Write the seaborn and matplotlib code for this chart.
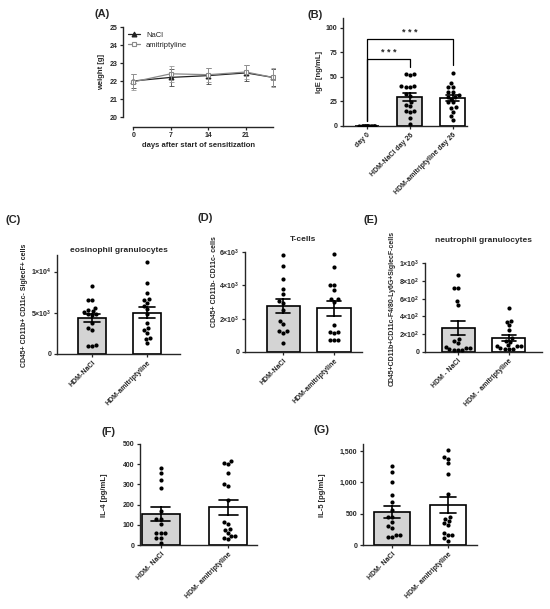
import numpy as np
import pandas as pd
import seaborn as sns
import matplotlib.pyplot as plt

# panel A - body weight over time (mean +/- SEM)
weight_days = [0, 7, 14, 21, 26]
weight_nacl = [22.0, 22.2, 22.3, 22.45, 22.2]
weight_nacl_err = [0.4, 0.45, 0.45, 0.45, 0.45]
weight_ami = [21.95, 22.4, 22.35, 22.5, 22.2]
weight_ami_err = [0.45, 0.45, 0.4, 0.4, 0.55]

# panel B - IgE
ige_groups = ['day 0', 'HDM-NaCl day 26', 'HDM-amitriptyline day 26']
ige_day0 = [0, 0, 0, 0, 0, 0, 0, 0, 0, 0, 0, 0, 0, 0, 0, 0, 0]
ige_nacl = [53, 53, 52, 41, 41, 40, 40, 33, 31, 24, 21, 20, 15, 15, 14, 8, 2]
ige_ami = [54, 44, 40, 40, 35, 35, 32, 30, 30, 28, 24, 24, 19, 18, 14, 10, 6]

# panels C, D - cell counts
cell_groups = ['HDM-NaCl', 'HDM-amitriptyline']
eos_nacl = [8200, 6600, 6500, 5600, 5300, 5200, 5100, 4800, 4900, 4700, 3700, 3100, 2900, 1100, 1000, 1000]
eos_ami = [11200, 8600, 7400, 6700, 6600, 6200, 5800, 5400, 4800, 3700, 3100, 2900, 2600, 2000, 1800, 1300]
tcell_nacl = [5800, 5150, 4350, 3800, 3450, 3050, 2950, 2500, 1850, 1700, 1250, 1150, 1250, 550]
tcell_ami = [5900, 5100, 4000, 4000, 3700, 3150, 3150, 3000, 1600, 1200, 1200, 1150, 750, 700, 700]

# panel E - neutrophils
neut_groups = ['HDM - NaCl', 'HDM - amitriptyline']
neut_nacl = [860, 720, 720, 575, 530, 145, 125, 100, 55, 50, 50, 30, 25, 25, 20]
neut_ami = [495, 345, 340, 300, 250, 155, 120, 115, 75, 70, 70, 65, 40, 35, 35, 30]

# panels F, G - cytokines
il_groups = ['HDM- NaCl', 'HDM- amitriptyline']
il4_nacl = [380, 355, 322, 280, 170, 130, 130, 104, 61, 61, 61, 36, 36, 8]
il4_ami = [415, 405, 400, 355, 300, 292, 222, 112, 104, 80, 76, 60, 45, 45, 33, 30]
il5_nacl = [1260, 1165, 1005, 795, 690, 555, 440, 440, 370, 300, 275, 165, 160, 130, 120]
il5_ami = [1510, 1400, 1380, 1305, 1140, 820, 450, 420, 385, 355, 320, 195, 160, 160, 105, 70]

# tick labels
eos_ticks = [0, 5000, 10000]
eos_ticklabels = ['0', r'$5{\times}10^3$', r'$1{\times}10^4$']
tcell_ticks = [0, 2000, 4000, 6000]
tcell_ticklabels = ['0', r'$2{\times}10^3$', r'$4{\times}10^3$', r'$6{\times}10^3$']
neut_ticks = [0, 200, 400, 600, 800, 1000]
neut_ticklabels = ['0', r'$2{\times}10^2$', r'$4{\times}10^2$', r'$6{\times}10^2$', r'$8{\times}10^2$', r'$1{\times}10^3$']
il5_ticks = [0, 500, 1000, 1500]
il5_ticklabels = ['0', '500', '1,000', '1,500']

sns.set_style('ticks')
plt.rcParams['font.family'] = ['Liberation Sans', 'DejaVu Sans']
plt.rcParams['font.weight'] = 'bold'
plt.rcParams['axes.labelweight'] = 'bold'
plt.rcParams['mathtext.fontset'] = 'custom'
plt.rcParams['mathtext.bf'] = 'Liberation Sans:bold'
plt.rcParams['mathtext.rm'] = 'Liberation Sans:bold'
plt.rcParams['mathtext.default'] = 'bf'

W, H = 550, 609
fig = plt.figure(figsize=(5.5, 6.09), dpi=100)


def px_axes(l, r, t, b):
    return fig.add_axes([l / W, 1 - b / H, (r - l) / W, (b - t) / H])


def px_text(x, y, s, **kw):
    fig.text(x / W, 1 - y / H, s, **kw)


def style(ax):
    sns.despine(ax=ax)
    for s in ['left', 'bottom']:
        ax.spines[s].set_linewidth(1.0)
    ax.tick_params(length=2.5, width=0.9, labelsize=5, pad=1.5)


def fix_markers(lines):
    for line in lines:
        c = line.get_color()
        line.set_markeredgecolor(c)
        line.set_markeredgewidth(0.8)
        line.set_linestyle('-')
        if c == '#8a8a8a':
            line.set_markerfacecolor('white')


def bar_panel(ax, groups, values, width, ylim, xlim, ticks=None, ticklabels=None):
    df = pd.DataFrame({'group': np.repeat(groups, [len(v) for v in values]),
                       'value': np.concatenate(values)})
    sns.barplot(data=df, x='group', y='value', hue='group', order=groups, hue_order=groups,
                palette=['#d4d4d4', 'white'], width=width, errorbar='se', capsize=0.28,
                edgecolor='black', linewidth=1.2,
                err_kws={'color': 'black', 'linewidth': 1.2}, legend=False, ax=ax)
    sns.swarmplot(data=df, x='group', y='value', order=groups, color='black', size=3, ax=ax)
    ax.set_ylim(*ylim)
    ax.set_xlim(*xlim)
    if ticks is not None:
        ax.set_yticks(ticks)
        ax.set_yticklabels(ticklabels)
    ax.set_xlabel('')
    ax.set_ylabel('')
    style(ax)
    plt.setp(ax.get_xticklabels(), rotation=45, ha='right', rotation_mode='anchor', fontsize=5)


# ---- (A) weight
ax = px_axes(123, 275, 27, 117)
wdf = pd.DataFrame({'day': weight_days * 2,
                    'weight': weight_nacl + weight_ami,
                    'group': ['NaCl'] * 5 + ['amitriptyline'] * 5})
sns.lineplot(data=wdf, x='day', y='weight', hue='group', style='group',
             markers={'NaCl': '^', 'amitriptyline': 's'}, dashes=False,
             palette={'NaCl': '#222222', 'amitriptyline': '#8a8a8a'},
             markersize=3.5, linewidth=0.9, ax=ax)
fix_markers(list(ax.lines))
ax.errorbar(weight_days, weight_nacl, yerr=weight_nacl_err, fmt='none', ecolor='#444444',
            elinewidth=0.6, capsize=1.8, capthick=0.6)
ax.errorbar(weight_days, weight_ami, yerr=weight_ami_err, fmt='none', ecolor='#999999',
            elinewidth=0.6, capsize=1.8, capthick=0.6)
ax.set_ylim(20, 25)
ax.set_xlim(-1.9, 26.4)
ax.set_xticks([0, 7, 14, 21])
style(ax)
ax.spines['bottom'].set_position(('outward', 7))
ax.spines['bottom'].set_bounds(0, 26)
ax.set_xlabel('days after start of sensitization', fontsize=5.5, labelpad=2)
ax.set_ylabel('weight [g]', fontsize=5.5, labelpad=3)
leg = ax.legend(loc='upper left', frameon=False, fontsize=5.5, handlelength=1.6,
                borderaxespad=0.2, labelspacing=0.3)
for t in leg.get_texts():
    t.set_fontweight('normal')
fix_markers(leg.get_lines())
px_text(102, 14, '(A)', fontsize=8, fontweight='bold', ha='center', va='center')

# ---- (B) IgE
ax = px_axes(343, 467, 18, 126)
bdf = pd.DataFrame({'group': np.repeat(ige_groups, [len(ige_day0), len(ige_nacl), len(ige_ami)]),
                    'value': np.concatenate([ige_day0, ige_nacl, ige_ami])})
sns.barplot(data=bdf, x='group', y='value', hue='group', order=ige_groups, hue_order=ige_groups,
            palette=['white', '#d4d4d4', 'white'], width=0.58, errorbar='se', capsize=0.3,
            edgecolor='black', linewidth=1.2, err_kws={'color': 'black', 'linewidth': 1.2},
            legend=False, ax=ax)
sns.stripplot(data=bdf[bdf['group'] == 'day 0'], x='group', y='value', order=ige_groups,
              color='black', size=3, jitter=0.22, ax=ax)
sns.swarmplot(data=bdf[bdf['group'] != 'day 0'], x='group', y='value', order=ige_groups,
              color='black', size=3, ax=ax)
ax.set_ylim(0, 110)
ax.set_xlim(-0.56, 2.33)
ax.set_yticks([0, 25, 50, 75, 100])
ax.set_xlabel('')
ax.set_ylabel('IgE [ng/mL]', fontsize=5.5, labelpad=2)
style(ax)
plt.setp(ax.get_xticklabels(), rotation=45, ha='right', rotation_mode='anchor', fontsize=5)
# significance brackets
ax.plot([0, 0, 1, 1], [5, 68, 68, 60], color='black', lw=0.9, clip_on=False)
ax.plot([0, 0, 2, 2], [5, 89, 89, 62], color='black', lw=0.9, clip_on=False)
ax.text(0.5, 70, '* * *', ha='center', va='bottom', fontsize=6.5)
ax.text(1.0, 91, '* * *', ha='center', va='bottom', fontsize=6.5)
px_text(315, 15, '(B)', fontsize=8, fontweight='bold', ha='center', va='center')

# ---- (C) eosinophils
ax = px_axes(57, 180, 255, 354)
bar_panel(ax, cell_groups, [eos_nacl, eos_ami], 0.5, (0, 12000), (-0.64, 1.6),
          eos_ticks, eos_ticklabels)
ax.set_title('eosinophil granulocytes', fontsize=6, fontweight='bold', pad=2)
px_text(25, 305, 'CD45+ CD11b+ CD11c- SiglecF+ cells', rotation=90, fontsize=5,
        fontweight='bold', ha='center', va='center')
px_text(13, 220, '(C)', fontsize=8, fontweight='bold', ha='center', va='center')

# ---- (D) T-cells
ax = px_axes(245, 362, 252, 352)
bar_panel(ax, cell_groups, [tcell_nacl, tcell_ami], 0.65, (0, 6000), (-0.75, 1.55),
          tcell_ticks, tcell_ticklabels)
ax.set_title('T-cells', fontsize=6, fontweight='bold', pad=8)
px_text(215, 282, 'CD45+ CD11b- CD11c- cells', rotation=90, fontsize=5,
        fontweight='bold', ha='center', va='center')
px_text(205, 218, '(D)', fontsize=8, fontweight='bold', ha='center', va='center')

# ---- (E) neutrophils
ax = px_axes(425, 542, 263, 352)
bar_panel(ax, neut_groups, [neut_nacl, neut_ami], 0.65, (0, 1000), (-0.65, 1.65),
          neut_ticks, neut_ticklabels)
ax.set_title('neutrophil granulocytes', fontsize=6, fontweight='bold', pad=15)
px_text(392, 308, 'CD45+CD11b+CD11c-F4/80-Ly6G+SiglecF-cells', rotation=90, fontsize=5,
        fontweight='bold', ha='center', va='center')
px_text(371, 220, '(E)', fontsize=8, fontweight='bold', ha='center', va='center')

# ---- (F) IL-4
ax = px_axes(140, 257, 444, 545)
bar_panel(ax, il_groups, [il4_nacl, il4_ami], 0.57, (0, 500), (-0.31, 1.43))
ax.set_yticks([0, 100, 200, 300, 400, 500])
px_text(105, 495, 'IL-4 [pg/mL]', rotation=90, fontsize=5.5,
        fontweight='bold', ha='center', va='center')
px_text(109, 432, '(F)', fontsize=8, fontweight='bold', ha='center', va='center')

# ---- (G) IL-5
ax = px_axes(363, 477, 444, 545)
bar_panel(ax, il_groups, [il5_nacl, il5_ami], 0.64, (0, 1612), (-0.52, 1.52),
          il5_ticks, il5_ticklabels)
px_text(322, 495, 'IL-5 [pg/mL]', rotation=90, fontsize=5.5,
        fontweight='bold', ha='center', va='center')
px_text(321, 430, '(G)', fontsize=8, fontweight='bold', ha='center', va='center')

fig.savefig('out.png', dpi=100)
